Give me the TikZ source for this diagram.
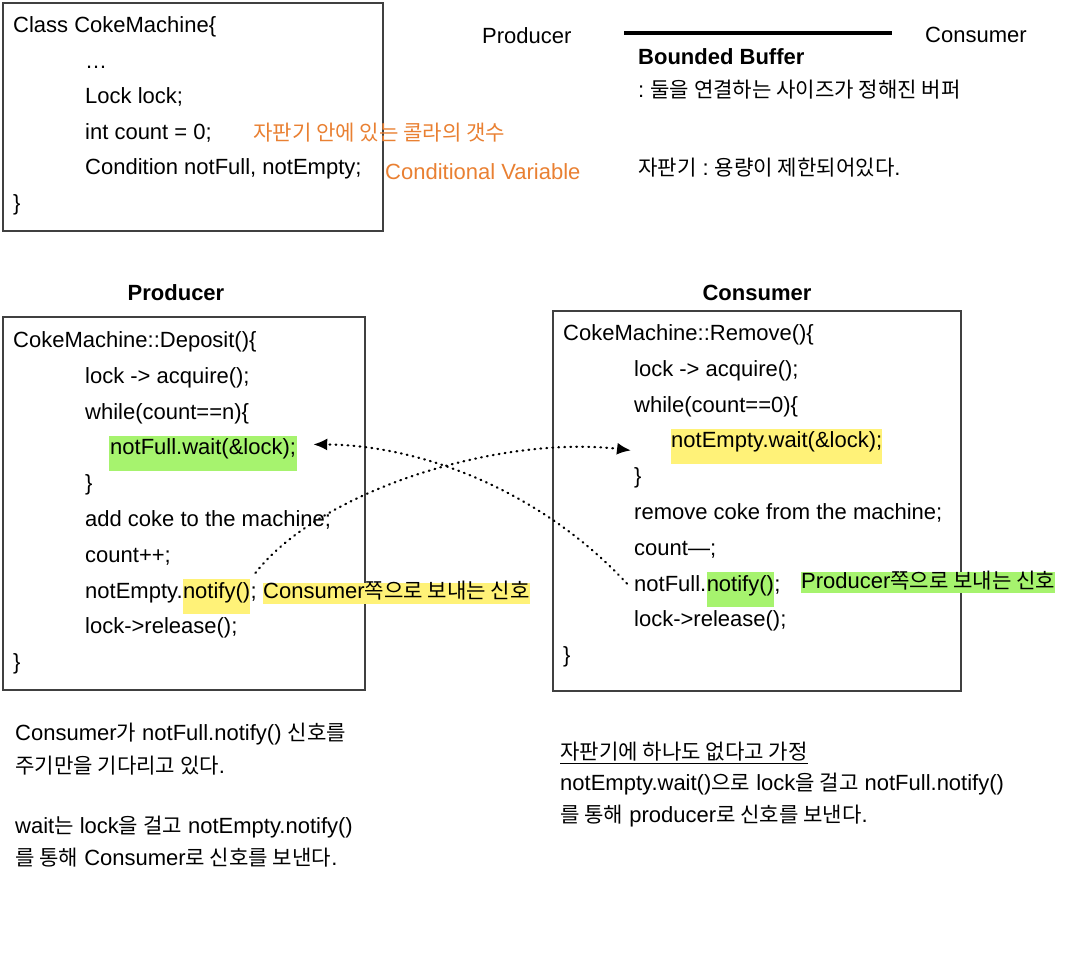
\documentclass[tikz,border=0pt]{standalone}
\usepackage{fontspec}
\setmainfont{Liberation Sans}
\newfontfamily\krfont{Noto Sans CJK KR}[Scale=0.96]
\newcommand\ko[1]{{\krfont #1}}
\usetikzlibrary{arrows.meta,positioning,calc}

\definecolor{boxgray}{RGB}{64,64,64}
\definecolor{hlgreen}{RGB}{166,243,110}
\definecolor{hlyellow}{RGB}{255,242,120}
\definecolor{orangetxt}{RGB}{233,128,50}

\begin{document}
\begin{tikzpicture}[x=1pt, y=-1pt, >={Latex[length=14pt,width=12pt]},
    font=\fontsize{22}{26}\selectfont,
    every node/.style={inner sep=0pt},
    code/.style={anchor=base west, text height=19pt, text depth=16pt},
    tag/.style={anchor=base west, text height=16pt, text depth=5pt},
    note/.style={anchor=base west},
    frame/.style={draw=boxgray, line width=1.5pt},
    signal/.style={->, line width=2.2pt, dash pattern=on 0.8pt off 5.2pt, line cap=round}]
    \useasboundingbox (0,0) rectangle (1074,958);

    % class declaration
    \draw[frame] (3,3) rectangle (383,231);
    \node[code] (t0) at (13,32.5) {Class CokeMachine\{};
    \node[code] (t1) at (85,68.1) {…};
    \node[code] (t2) at (85,103.7) {Lock lock;};
    \node[code] (t3) at (85,139.3) {int count = 0;};
    \node[code] (t4) at (85,174.9) {Condition notFull, notEmpty;};
    \node[code] (t5) at (13,210.5) {\}};
    \node[note, text=orangetxt] (cnt) at (253,140) {\ko{자판기 안에 있는 콜라의 갯수}};
    \node[note, text=orangetxt] (cvar) at (385,179.5) {Conditional Variable};

    % bounded buffer
    \node[note] (prodtop) at (482,43.5) {Producer};
    \node[note] (constop) at (925,42.5) {Consumer};
    \coordinate (bufL) at (624,33);
    \coordinate (bufR) at (892,33);
    \draw[line width=4pt] (bufL) -- (bufR);
    \node[note] (bb) at (638,64.5) {\textbf{Bounded Buffer}};
    \node[note] (bb1) at (638,97) {:\ \ko{둘을 연결하는 사이즈가 정해진 버퍼}};
    \node[note] (bb2) at (638,175) {\ko{자판기} :\ \ko{용량이 제한되어있다}.};

    % producer
    \node[anchor=base] (ptitle) at (176,300.5) {\textbf{Producer}};
    \draw[frame] (3,317) rectangle (365,690);
    \node[code] (p0) at (13,347.5) {CokeMachine::Deposit()\{};
    \node[code] (p1) at (85,383.3) {lock -> acquire();};
    \node[code] (p2) at (85,419.1) {while(count==n)\{};
    \node[code, fill=hlgreen, inner xsep=1pt] (p3) at (109,454.9) {notFull.wait(\&lock);};
    \node[code] (p4) at (85,490.7) {\}};
    \node[code] (p5) at (85,526.5) {add coke to the machine;};
    \node[code] (p6) at (85,562.3) {count++;};
    \node[code] (p7) at (85,598.1) {notEmpty.};
    \node[code, fill=hlyellow] (p7n) at (p7.base east) {notify()};
    \node[code] (p7s) at (p7n.base east) {;};
    \node[tag, fill=hlyellow] (ptag) at (263,598.5) {Consumer\ko{쪽으로 보내는 신호}};
    \node[code] (p8) at (85,633.9) {lock->release();};
    \node[code] (p9) at (13,669.7) {\}};

    % consumer
    \node[anchor=base] (ctitle) at (757,300.5) {\textbf{Consumer}};
    \draw[frame] (553,311) rectangle (961,691);
    \node[code] (c0) at (563,340.5) {CokeMachine::Remove()\{};
    \node[code] (c1) at (634,376.3) {lock -> acquire();};
    \node[code] (c2) at (634,412.1) {while(count==0)\{};
    \node[code, fill=hlyellow] (c3) at (671,447.9) {notEmpty.wait(\&lock);};
    \node[code] (c4) at (634,483.7) {\}};
    \node[code] (c5) at (634,519.5) {remove coke from the machine;};
    \node[code] (c6) at (634,555.3) {count—;};
    \node[code] (c7) at (634,591.1) {notFull.};
    \node[code, fill=hlgreen] (c7n) at (c7.base east) {notify()};
    \node[code] (c7s) at (c7n.base east) {;};
    \node[tag, fill=hlgreen] (ctag) at (801,588) {Producer\ko{쪽으로 보내는 신호}};
    \node[code] (c8) at (634,626.9) {lock->release();};
    \node[code] (c9) at (563,662.7) {\}};

    % signals
    \draw[signal] ($(c7.west)+(-7,-6)$) .. controls (540,490) and (420,445) .. ($(p3.east)+(16,-9)$);
    \draw[signal] ($(p7n.north east)+(5,-6)$) .. controls (320,490) and (500,435) .. ($(c3.west)+(-40,4)$);

    % notes
    \node[note] (n1) at (15,740.5) {Consumer\ko{가} notFull.notify() \ko{신호를}};
    \node[note] (n2) at (15,773.5) {\ko{주기만을 기다리고 있다}.};
    \node[note] (n3) at (15,833.5) {wait\ko{는} lock\ko{을 걸고} notEmpty.notify()};
    \node[note] (n4) at (15,865.5) {\ko{를 통해} Consumer\ko{로 신호를 보낸다}.};
    \node[note] (m1) at (560,759) {\ko{자판기에 하나도 없다고 가정}};
    \draw[line width=1pt] ($(m1.base west)+(0,4)$) -- ($(m1.base east)+(0,4)$);
    \node[note] (m2) at (560,790.5) {notEmpty.wait()\ko{으로} lock\ko{을 걸고} notFull.notify()};
    \node[note] (m3) at (560,822) {\ko{를 통해} producer\ko{로 신호를 보낸다}.};
\end{tikzpicture}
\end{document}
